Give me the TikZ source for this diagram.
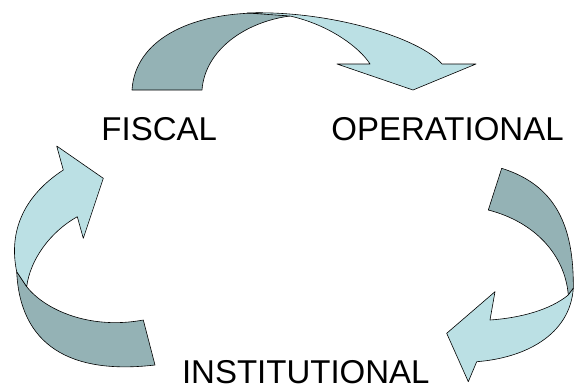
\documentclass[tikz,border=0pt]{standalone}
\usepackage{fontspec}
\setmainfont{Liberation Sans}
\definecolor{darkband}{RGB}{148,178,181}
\definecolor{lightband}{RGB}{187,224,228}
\begin{document}
\begin{tikzpicture}[x=1pt,y=-1pt,
  darkpart/.style={fill=darkband,draw=black,line width=0.6pt,line join=round},
  lightpart/.style={fill=lightband,draw=black,line width=0.6pt,line join=round},
  label/.style={font=\fontsize{33}{36}\selectfont,text=black,inner sep=0pt,anchor=base}]
\useasboundingbox (0,0) rectangle (574,386);
% top arrow
\path[darkpart] (132,90) .. controls (135,40) and (190,13) .. (260,13) -- (290,16)
  .. controls (245,22) and (205,50) .. (202,90) -- cycle;
\path[lightpart] (247,13) .. controls (330,10) and (420,38) .. (442,64) -- (476,64) -- (413,90)
  -- (337,64) -- (370,64) .. controls (360,48) and (330,25) .. (290,16) -- cycle;
% left arrow
\path[darkpart] (16.7,271.7) .. controls (20,345) and (70,375) .. (155,365) -- (143.3,320)
  .. controls (90,330) and (45,310) .. (26.7,286.7) -- cycle;
\path[lightpart] (63.3,170) -- (56.7,146) -- (103.3,178.3) -- (83.3,238.3) -- (77.3,216.7)
  .. controls (50,232) and (30,260) .. (26.7,286.7) -- (16.7,271.7)
  .. controls (8,230) and (25,195) .. (63.3,170) -- cycle;
% right arrow
\path[darkpart] (501.7,168.3) .. controls (555,185) and (574,225) .. (573.3,288.3) -- (568.3,295)
  .. controls (565,255) and (535,222) .. (488.3,210) -- cycle;
\path[lightpart] (490,320) -- (495,291.7) -- (446.7,333.3) -- (468.3,381.7) -- (476.7,361.7)
  .. controls (525,358) and (570,335) .. (573.3,288.3) -- (568.3,295)
  .. controls (550,310) and (520,318) .. (490,320) -- cycle;
% labels
\node[label] (fiscal) at (159.2,140) {FISCAL};
\node[label] (operational) at (447.5,140) {OPERATIONAL};
\node[label] (institutional) at (305.8,383.3) {INSTITUTIONAL};
\end{tikzpicture}
\end{document}
